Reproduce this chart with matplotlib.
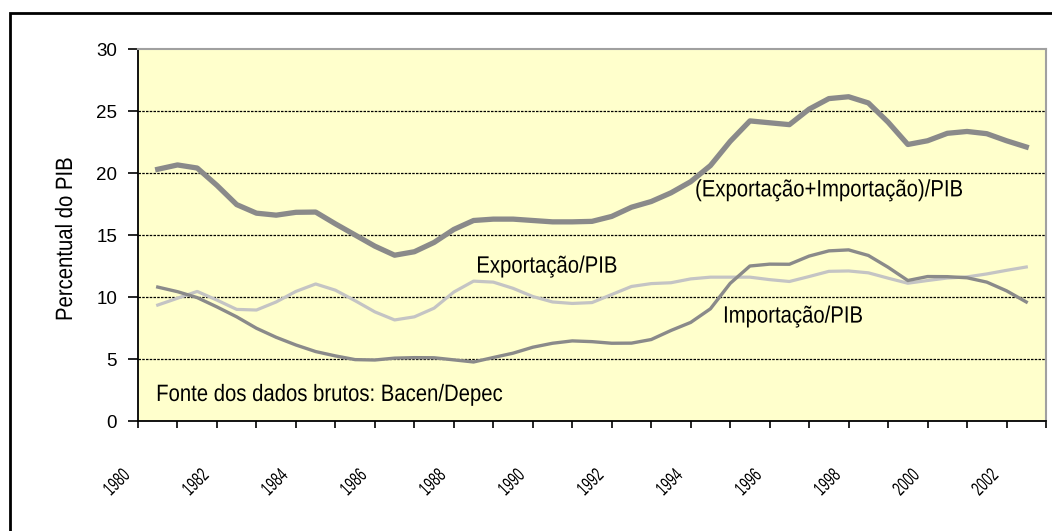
import numpy as np
import matplotlib.pyplot as plt
from matplotlib.patches import Rectangle
from matplotlib.patheffects import AbstractPathEffect
from matplotlib.transforms import Affine2D, ScaledTranslation, blended_transform_factory

plt.rcParams['font.family'] = ['Liberation Sans', 'DejaVu Sans']

# half-year points, 1980.5 .. 2002.5
anos = np.arange(1980.5, 2002.51, 0.5)

total_pib = [20.3, 20.65, 20.4, 19.0, 17.45, 16.76, 16.6, 16.83, 16.85, 15.9,
             15.0, 14.1, 13.37, 13.65, 14.4, 15.45, 16.17, 16.28, 16.28, 16.17,
             16.06, 16.06, 16.1, 16.5, 17.24, 17.7, 18.4, 19.3, 20.6, 22.55,
             24.2, 24.05, 23.9, 25.15, 26.0, 26.15, 25.65, 24.1, 22.3, 22.6,
             23.2, 23.35, 23.17, 22.6, 22.1]

export_pib = [9.35, 9.9, 10.45, 9.75, 9.0, 8.95, 9.6, 10.45, 11.05, 10.55,
              9.7, 8.8, 8.15, 8.4, 9.1, 10.4, 11.28, 11.2, 10.7, 10.04,
              9.6, 9.48, 9.55, 10.2, 10.85, 11.08, 11.15, 11.46, 11.6, 11.6,
              11.6, 11.4, 11.25, 11.65, 12.07, 12.1, 11.95, 11.52, 11.11, 11.33,
              11.53, 11.62, 11.86, 12.15, 12.42]

import_pib = [10.8, 10.43, 9.95, 9.2, 8.4, 7.48, 6.75, 6.13, 5.6, 5.25,
              4.95, 4.92, 5.07, 5.11, 5.1, 4.93, 4.76, 5.12, 5.47, 5.95,
              6.27, 6.46, 6.4, 6.27, 6.28, 6.57, 7.3, 7.95, 9.05, 11.1,
              12.5, 12.65, 12.64, 13.3, 13.72, 13.8, 13.35, 12.4, 11.33, 11.65,
              11.64, 11.55, 11.2, 10.5, 9.6]

anos_rotulo = list(range(1980, 2003, 2))


class Narrow(AbstractPathEffect):
    """squeeze text glyphs along the reading direction (Arial Narrow look)"""

    def __init__(self, sx=0.85):
        super().__init__()
        self.sx = sx

    def draw_path(self, renderer, gc, tpath, affine, rgbFace=None):
        renderer.draw_path(gc, tpath, Affine2D().scale(self.sx, 1) + affine, rgbFace)


narrow = [Narrow(0.86)]

fig = plt.figure(figsize=(10.52, 5.31), dpi=100)
ax = fig.add_axes([138 / 1052, 110 / 531, 908 / 1052, 372 / 531])
ax.set_facecolor('#FFFFCC')

# outer chart border
fig.patches.append(Rectangle((10 / 1052, -0.05), 1.1, 1 - 13 / 531 + 0.05,
                             transform=fig.transFigure, fill=False,
                             edgecolor='black', linewidth=2))

for v in [5, 10, 15, 20, 25]:
    ax.axhline(v, color='black', linewidth=0.9, dashes=(2, 1), zorder=1)

ax.plot(anos, export_pib, color='#c4c4c4', linewidth=2.3, zorder=3)
ax.plot(anos, import_pib, color='#8a8a8a', linewidth=2.4, zorder=3)
ax.plot(anos, total_pib, color='#8a8a8a', linewidth=3.8, zorder=4)

ax.set_xlim(1980, 2003)
ax.set_ylim(0, 30)
ax.set_xticks(range(1980, 2004))
ax.set_xticklabels([])
ax.set_yticks(range(0, 31, 5))
ax.tick_params(axis='y', direction='out', length=7, width=1.2, pad=8, labelsize=13.5)
ax.tick_params(axis='x', direction='out', length=5, width=1.2)

for s in ['left', 'bottom']:
    ax.spines[s].set_color('black')
    ax.spines[s].set_linewidth(1.3)
for s in ['top', 'right']:
    ax.spines[s].set_color('#a0a0a0')
    ax.spines[s].set_linewidth(1.5)

# rotated year labels, anchored at their lower-left end
trans = blended_transform_factory(ax.transData, ax.transAxes) + \
    ScaledTranslation(-22 / 72, -52 / 72, fig.dpi_scale_trans)
for a in anos_rotulo:
    ax.text(a, 0, str(a), transform=trans, rotation=45, rotation_mode='anchor',
            ha='left', va='center', fontsize=14, path_effects=[Narrow(0.66)])

fig.text(66 / 1052, 1 - 321 / 531, 'Percentual do PIB', rotation=90,
         ha='center', va='bottom', fontsize=17, path_effects=narrow)

ax.text(1994.11, 18.6, '(Exportação+Importação)/PIB', fontsize=17, va='center',
        zorder=5, path_effects=narrow)
ax.text(1988.57, 12.45, 'Exportação/PIB', fontsize=17, va='center', zorder=5,
        path_effects=narrow)
ax.text(1994.82, 8.42, 'Importação/PIB', fontsize=17, va='center', zorder=5,
        path_effects=narrow)
ax.text(1980.46, 2.1, 'Fonte dos dados brutos: Bacen/Depec', fontsize=17, va='center',
        zorder=5, path_effects=narrow)

fig.savefig('out.png', dpi=100)
